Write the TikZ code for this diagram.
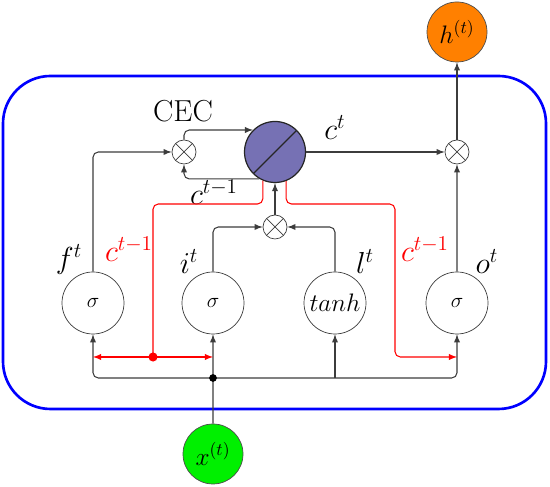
\documentclass[tikz,border=0pt]{standalone}
\usepackage{amsmath}
\usepackage{amssymb}
\usepackage{tikz}
\usetikzlibrary{arrows,shapes,shapes.symbols,positioning}
\usepackage{xcolor}
\definecolor{cecpurple}{RGB}{118,113,180}
\definecolor{outorange}{RGB}{255,128,0}
\definecolor{ingreen}{RGB}{0,240,0}
\definecolor{wire}{RGB}{60,60,60}
\tikzstyle{arrow} = [->,>=latex,line width=0.6pt,color=wire,rounded corners=3pt]
\tikzstyle{wireline} = [line width=0.6pt,color=wire,rounded corners=3pt]
\tikzstyle{peep} = [>=latex,line width=0.6pt,color=red,rounded corners=3pt]
\tikzstyle{gate} = [circle, draw=wire, minimum size=1.24cm, inner sep=0pt, font=\large]
\tikzstyle{mult} = [circle, draw=wire, minimum size=0.48cm, inner sep=0pt, path picture={\draw[wire] (path picture bounding box.north west) -- (path picture bounding box.south east) (path picture bounding box.south west) -- (path picture bounding box.north east);}]
\tikzstyle{cec} = [forbidden sign, draw=black!85, fill=cecpurple, minimum size=1.22cm, inner sep=0pt, line width=0.7pt]
\tikzstyle{io} = [circle, draw=black!70, minimum size=1.2cm, inner sep=0pt, font=\Large]
\tikzstyle{lab} = [font=\LARGE, inner sep=0pt]

\begin{document}
\begin{tikzpicture}
\useasboundingbox (0,0) rectangle (11,9.74);
% LSTM block
\node (block) [draw=blue, line width=1.5pt, rounded corners=0.95cm, minimum width=10.86cm, minimum height=6.66cm] at (5.49,4.89) {};

% Gates
\node (f) [gate] at (1.86,3.68) {$\sigma$};
\node (i) [gate, right of=f, node distance=2.4cm] {$\sigma$};
\node (l) [gate, right of=i, node distance=2.44cm, font=\Large] {$tanh$};
\node (o) [gate, right of=l, node distance=2.44cm] {$\sigma$};

% Cell and multipliers
\node (cell) [cec] at (5.5,6.70) {};
\node (fm) [mult, left of=cell, node distance=1.82cm] {};
\node (im) [mult, below of=cell, node distance=1.5cm] {};
\node (om) [mult, right of=cell, node distance=3.64cm] {};

% Input and output
\node (h) [io, fill=outorange, above of=om, node distance=2.4cm] {$h^{(t)}$};
\node (x) [io, fill=ingreen, below of=i, node distance=3.02cm] {$x^{(t)}$};
\coordinate (jn) at (4.26,2.18);
\coordinate (rdot) at (3.06,2.60);
\coordinate (pl) at (3.06,5.66);
\coordinate (pr) at (7.90,5.66);

% Labels
\node (ceclab) [lab] at (3.66,7.52) {CEC};
\node (ctlab) [lab] at (6.70,7.18) {$c^t$};
\node (cprev) [lab] at (4.28,5.90) {$c^{t-1}$};
\node (cleft) [lab, red] at (2.58,4.76) {$c^{t-1}$};
\node (cright) [lab, red] at (8.50,4.76) {$c^{t-1}$};
\node (ftlab) [lab] at (1.38,4.56) {$f^t$};
\node (itlab) [lab] at (3.78,4.50) {$i^t$};
\node (ltlab) [lab] at (7.30,4.50) {$l^t$};
\node (otlab) [lab] at (9.74,4.50) {$o^t$};

% Connections
\draw [arrow] (f.north) |- (fm.west);
\draw [arrow] (i.north) |- (im.west);
\draw [arrow] (l.north) |- (im.east);
\draw [arrow] (im.north) -- (cell.south);
\draw [arrow] (fm.north) |- (cell.135);
\draw [arrow] (cell.240) -| (fm.south);
\draw [arrow] (cell.east) -- (om.west);
\draw [arrow] (o.north) -- (om.south);
\draw [arrow] (om.north) -- (h.south);

% Input bus
\draw [wireline] (x.north) -- (jn);
\draw [arrow] (jn) -| (f.south);
\draw [arrow] (jn) -- (i.south);
\draw [arrow] (jn) -| (o.south);
\draw [arrow] (jn -| l) -- (l.south);
\fill [black] (jn) circle (2.2pt);

% Peepholes
\draw [peep] (cell.247) |- (pl) -- (rdot);
\draw [peep, <->] (f |- rdot) -- (i |- rdot);
\draw [peep, ->] (cell.291) |- (pr) |- (o |- rdot);
\fill [red] (rdot) circle (2.6pt);
\end{tikzpicture}
\end{document}
